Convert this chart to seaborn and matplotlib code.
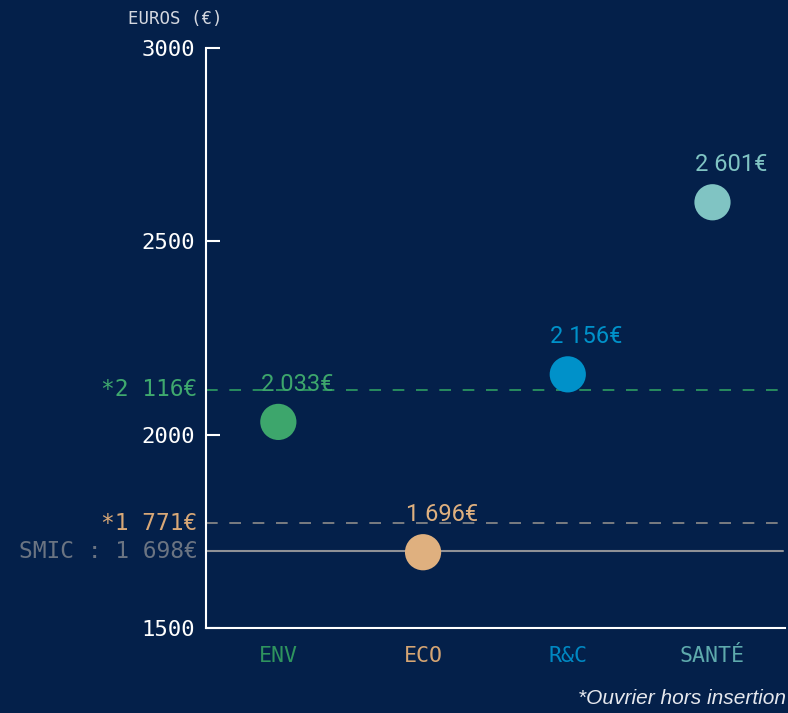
import pandas as pd
import seaborn as sns
import matplotlib.pyplot as plt

# Données
domaines = ['ENV', 'ECO', 'R&C', 'SANTÉ']
salaires = [2033, 1696, 2156, 2601]
etiquettes = ['2 033€', '1 696€', '2 156€', '2 601€']
couleurs_points = ['#3da66c', '#dfb07f', '#0091c9', '#80c4c3']
couleurs_axe = ['#2f945e', '#d6a573', '#0088c2', '#5eaaad']

# Lignes de référence
ref_valeurs = [2116, 1771, 1698]
ref_textes = ['*2 116€', '*1 771€', 'SMIC : 1 698€']
ref_couleurs_texte = ['#3fa96e', '#d9a877', '#6b7482']
ref_couleurs_ligne = ['#2f9e62', '#8e8c8a', '#8f9196']
ref_styles = ['--', '--', '-']

yticks = [1500, 2000, 2500, 3000]

fond = '#04204a'
mono = 'DejaVu Sans Mono'

df = pd.DataFrame({'domaine': domaines, 'salaire': salaires})

sns.set_style('white')
fig = plt.figure(figsize=(7.88, 7.13), dpi=100, facecolor=fond)
ax = fig.add_axes([0.2614, 0.1192, 0.7346, 0.8135])
ax.set_facecolor(fond)

sns.scatterplot(data=df, x='domaine', y='salaire', hue='domaine',
                palette=couleurs_points, s=680, edgecolor='none',
                legend=False, ax=ax, zorder=3)

# Lignes horizontales (ouvrier hors insertion, SMIC)
for val, txt, ct, cl, ls in zip(ref_valeurs, ref_textes, ref_couleurs_texte,
                                ref_couleurs_ligne, ref_styles):
    if ls == '--':
        ax.axhline(val, xmin=0, xmax=0.996, color=cl, lw=1.2,
                   dashes=(7, 7), zorder=1)
    else:
        ax.axhline(val, xmin=0, xmax=0.996, color=cl, lw=1.5, zorder=1)
    ax.annotate(txt, xy=(0, val), xycoords=ax.get_yaxis_transform(),
                xytext=(-6, 0), textcoords='offset points',
                ha='right', va='center', color=ct, fontsize=16.5,
                family=mono, annotation_clip=False)

# Valeurs au-dessus des points (alignées sur le bord gauche du cercle)
for i, (val, txt, c) in enumerate(zip(salaires, etiquettes, couleurs_points)):
    ax.annotate(txt, xy=(i, val), xytext=(-12.5, 27),
                textcoords='offset points', ha='left', va='center',
                color=c, fontsize=17, family='Roboto')

ax.set_xlim(-0.5, 3.5)
ax.set_ylim(1500, 3000)
ax.set_yticks(yticks)
ax.set_yticklabels([str(t) for t in yticks], family=mono, fontsize=16,
                   color='white')
ax.tick_params(axis='y', direction='in', length=10, width=1.5,
               color='white', pad=8, left=True)
ax.tick_params(axis='x', length=0, pad=13)
for lab, c in zip(ax.get_xticklabels(), couleurs_axe):
    lab.set_color(c)
    lab.set_family(mono)
    lab.set_fontsize(15.5)

ax.set_xlabel('')
ax.set_ylabel('')
for s in ['top', 'right']:
    ax.spines[s].set_visible(False)
for s in ['left', 'bottom']:
    ax.spines[s].set_color('white')
    ax.spines[s].set_linewidth(1.5)

fig.text(0.282, 0.974, 'EUROS (€)', ha='right', va='center',
         family=mono, fontsize=12.5, color='#d5d8e0')
fig.text(0.998, 0.021, '*Ouvrier hors insertion', ha='right', va='center',
         family='Liberation Sans', style='italic', fontsize=15,
         color='#e6e8ee')

fig.savefig('out.png', dpi=100, facecolor=fond)
